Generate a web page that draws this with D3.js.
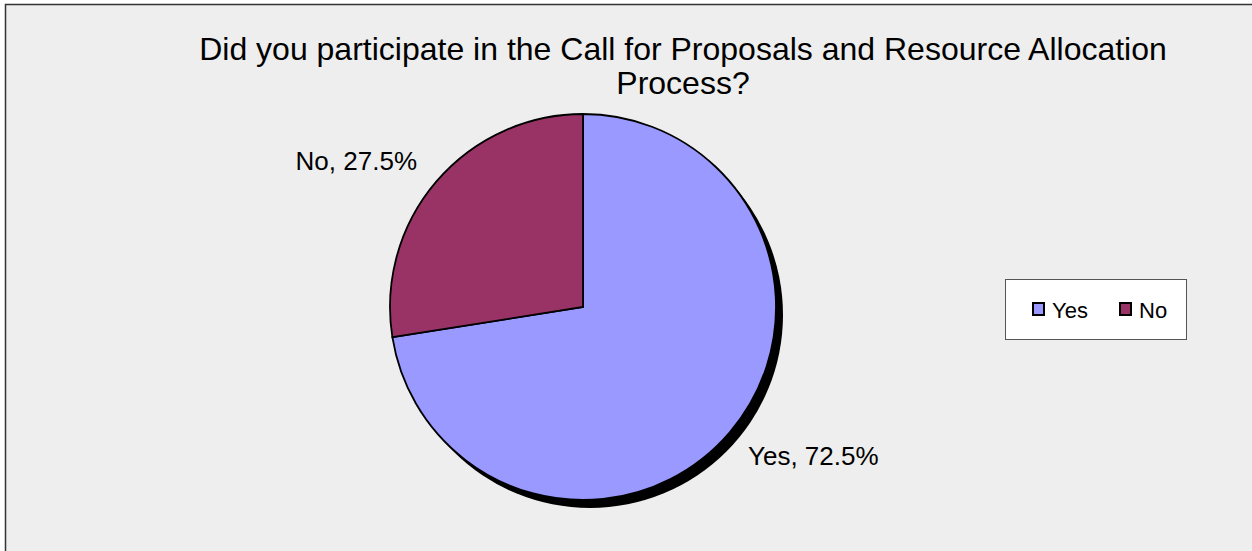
<!DOCTYPE html>
<html><head><meta charset="utf-8">
<script src="https://cdn.jsdelivr.net/npm/d3@7"></script>
<style>html,body{margin:0;padding:0;background:#fff;}svg{display:block;}</style>
</head><body>
<script>
const categories = ["Yes", "No"];
const values = [72.5, 27.5];
const colors = ["#9999ff", "#993366"];
const titleLines = ["Did you participate in the Call for Proposals and Resource Allocation", "Process?"];

const W = 1252, H = 551;
const svg = d3.select("body").append("svg").attr("width", W).attr("height", H);
svg.append("rect").attr("x", 5.5).attr("y", 4.5).attr("width", W + 10).attr("height", H + 10)
  .attr("fill", "#eeeeee").attr("stroke", "#333").attr("stroke-width", 1.5);

const font = "'Liberation Sans', Arial, sans-serif";
svg.append("g").selectAll("text").data(titleLines).join("text")
  .attr("x", 683).attr("y", (d, i) => 60 + i * 34)
  .attr("text-anchor", "middle").attr("font-family", font).attr("font-size", 32).attr("fill", "#000")
  .text(d => d);

const cx = 583, cy = 307, r = 193;
const data = categories.map((c, i) => ({ cat: c, value: values[i], color: colors[i] }));
const pie = d3.pie().value(d => d.value).sort(null);
const arcs = pie(data);
const arc = d3.arc().innerRadius(0).outerRadius(r);

// shadow
svg.append("circle").attr("cx", cx + 7).attr("cy", cy + 8).attr("r", r).attr("fill", "#000");

const g = svg.append("g").attr("transform", `translate(${cx},${cy})`);
g.selectAll("path").data(arcs).join("path")
  .attr("d", arc).attr("fill", d => d.data.color)
  .attr("stroke", "#000").attr("stroke-width", 1.8).attr("stroke-linejoin", "miter");

// labels
const labelPos = { "Yes": [748, 465, "start"], "No": [417, 170, "end"] };
g.selectAll("text.lbl").data(arcs).join("text").attr("class", "lbl")
  .attr("x", d => labelPos[d.data.cat][0] - cx).attr("y", d => labelPos[d.data.cat][1] - cy)
  .attr("text-anchor", d => labelPos[d.data.cat][2])
  .attr("font-family", font).attr("font-size", 26).attr("fill", "#000")
  .text(d => `${d.data.cat}, ${d.data.value.toFixed(1)}%`);

// legend
const lg = svg.append("g");
lg.append("rect").attr("x", 1005.5).attr("y", 279.5).attr("width", 181).attr("height", 60)
  .attr("fill", "#fff").attr("stroke", "#555").attr("stroke-width", 1);
const itemX = [1032, 1119];
const items = lg.selectAll("g.item").data(data).join("g").attr("class", "item")
  .attr("transform", (d, i) => `translate(${itemX[i]},302)`);
items.append("rect").attr("x", 1).attr("y", 1).attr("width", 11).attr("height", 12)
  .attr("fill", d => d.color).attr("stroke", "#000").attr("stroke-width", 2);
items.append("text").attr("x", 20).attr("y", 15.5).attr("font-family", font).attr("font-size", 22)
  .attr("fill", "#000").text(d => d.cat);
</script>
</body></html>
